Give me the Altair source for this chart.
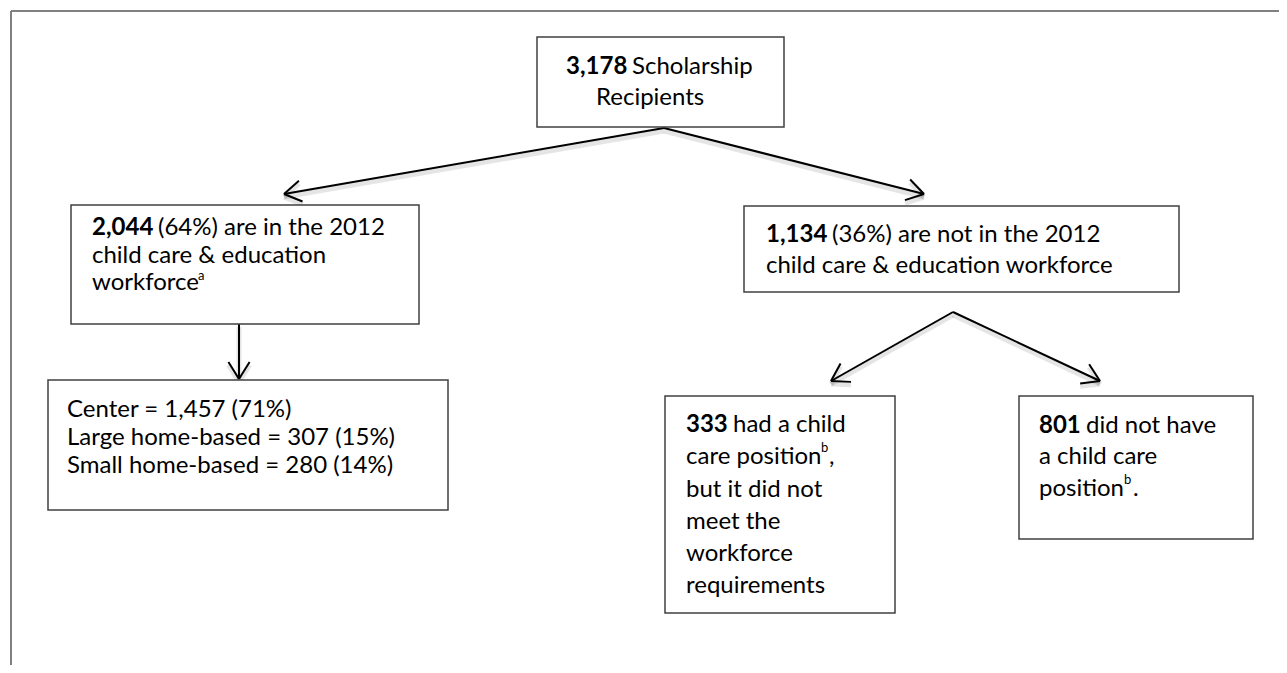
import altair as alt
import pandas as pd
import numpy as np

# ---------------- layout data (image pixel coordinates) ----------------
box_x1 = [537, 71, 744, 48, 665, 1019]
box_x2 = [784, 419, 1179, 448, 895, 1253]
box_y1 = [37, 205, 206, 380, 396, 396]
box_y2 = [127, 324, 292, 510, 613, 539]

bold_txt = ["3,178", "2,044", "1,134", "333", "801"]
bold_x = [566, 92, 766, 686, 1039]
bold_y = [74, 235, 242, 432, 433]

norm_txt = ["Scholarship", "Recipients",
            "(64%) are in the 2012", "child care & education", "workforce",
            "(36%) are not in the 2012", "child care & education workforce",
            "Center = 1,457 (71%)", "Large home-based = 307 (15%)", "Small home-based = 280 (14%)",
            "had a child", "care position", ",", "but it did not", "meet the", "workforce", "requirements",
            "did not have", "a child care", "position", "."]
norm_x = [632, 596,
          158, 92, 92,
          832, 766,
          67, 67, 67,
          733, 686, 829, 686, 686, 686, 686,
          1086, 1039, 1039, 1133]
norm_y = [74, 105,
          235, 263, 290,
          242, 273,
          417, 445, 473,
          432, 464, 464, 497, 529, 561, 593,
          433, 464, 496, 496]

sup_txt = ["a", "b", "b"]
sup_x = [198, 821, 1124]
sup_y = [280, 452, 484]

arrow_x1 = [664, 664, 239, 953, 953]
arrow_y1 = [128, 128, 324, 312, 312]
arrow_x2 = [284, 924, 239, 831, 1100]
arrow_y2 = [194, 194, 379, 381, 381]

W, H = 1271, 657
FONT = "Lato"
FS = 24

xs = alt.Scale(domain=[8, 8 + W], nice=False, zero=False)
ys = alt.Scale(domain=[8, 8 + H], nice=False, zero=False, reverse=True)

def X(f):
    return alt.X(f, type="quantitative", scale=xs, axis=None)

def Y(f):
    return alt.Y(f, type="quantitative", scale=ys, axis=None)

# frame
frame = pd.DataFrame({"x": [11, 11], "y": [11, 11], "x2": [8 + W, 11], "y2": [11, 8 + H]})
frame_layer = alt.Chart(frame).mark_rule(color="#808080", strokeWidth=2).encode(
    x=X("x"), y=Y("y"), x2="x2", y2="y2")

# arrows
ar = pd.DataFrame({"x": arrow_x1, "y": arrow_y1, "x2": arrow_x2, "y2": arrow_y2})
heads = []
L, ang = 20.0, np.deg2rad(32)
for x1, y1, x2, y2 in zip(arrow_x1, arrow_y1, arrow_x2, arrow_y2):
    d = np.arctan2(y1 - y2, x1 - x2)
    for s in (-1, 1):
        heads.append({"x": x2, "y": y2,
                      "x2": x2 + L * np.cos(d + s * ang),
                      "y2": y2 + L * np.sin(d + s * ang)})
hd = pd.DataFrame(heads)
allseg = pd.concat([ar, hd], ignore_index=True)
shadow = allseg.copy()
shadow["y"] = shadow["y"] + 3
shadow["y2"] = shadow["y2"] + 3

shadow_layer = alt.Chart(shadow).mark_rule(color="#000000", opacity=0.10, strokeWidth=5).encode(
    x=X("x"), y=Y("y"), x2="x2", y2="y2")
arrow_layer = alt.Chart(allseg).mark_rule(color="#000000", strokeWidth=2).encode(
    x=X("x"), y=Y("y"), x2="x2", y2="y2")

# boxes
bx = pd.DataFrame({"x": box_x1, "x2": box_x2, "y": box_y1, "y2": box_y2})
box_layer = alt.Chart(bx).mark_rect(fill="white", stroke="#404040", strokeWidth=1.5).encode(
    x=X("x"), x2="x2", y=Y("y"), y2="y2")

# texts
bt = pd.DataFrame({"t": bold_txt, "x": bold_x, "y": bold_y})
nt = pd.DataFrame({"t": norm_txt, "x": norm_x, "y": norm_y})
st = pd.DataFrame({"t": sup_txt, "x": sup_x, "y": sup_y})

bold_layer = alt.Chart(bt).mark_text(align="left", baseline="alphabetic", font=FONT, fontSize=FS,
                                     fontWeight="bold", color="#000000").encode(
    x=X("x"), y=Y("y"), text="t")
norm_layer = alt.Chart(nt).mark_text(align="left", baseline="alphabetic", font=FONT, fontSize=FS,
                                     color="#000000").encode(
    x=X("x"), y=Y("y"), text="t")
sup_layer = alt.Chart(st).mark_text(align="left", baseline="alphabetic", font=FONT, fontSize=13,
                                    color="#000000").encode(
    x=X("x"), y=Y("y"), text="t")

chart = alt.layer(frame_layer, shadow_layer, arrow_layer, box_layer,
                  bold_layer, norm_layer, sup_layer).properties(
    width=W, height=H, autosize=alt.AutoSizeParams(type="none"), padding=0
).configure_view(stroke=None)

chart.save("out.html", embed_options={"renderer": "svg", "actions": False})
